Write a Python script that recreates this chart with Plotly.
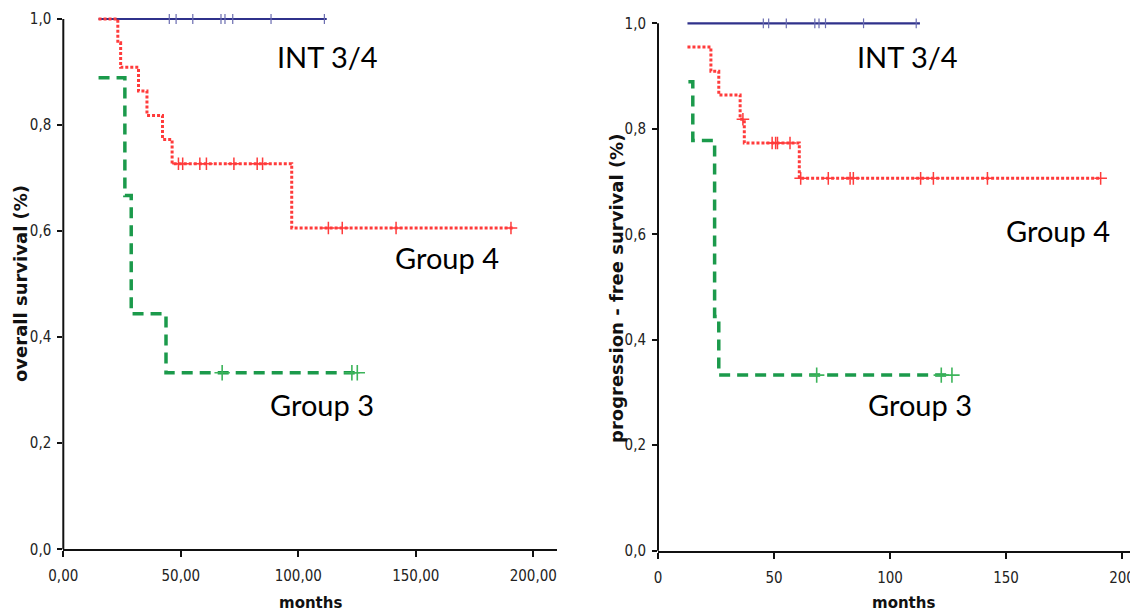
import plotly.graph_objects as go

# ---------------- data ----------------
# Left panel: overall survival
os_int_time = [15.0, 112.1]
os_int_surv = [1.0, 1.0]
os_int_cens_time = [45.1, 48.0, 55.1, 67.1, 68.8, 72.1, 88.4, 111.1]
os_int_cens_surv = [1.0, 1.0, 1.0, 1.0, 1.0, 1.0, 1.0, 1.0]

os_g4_time = [15.0, 23.2, 24.4, 32.0, 35.6, 42.2, 46.3, 97.2, 191.5]
os_g4_surv = [1.0, 0.955, 0.909, 0.864, 0.818, 0.773, 0.727, 0.606, 0.606]
os_g4_cens_time = [49.0, 50.8, 58.1, 60.9, 72.6, 82.5, 84.8, 112.8, 118.7, 141.6, 190.5]
os_g4_cens_surv = [0.727, 0.727, 0.727, 0.727, 0.727, 0.727, 0.727, 0.606, 0.606, 0.606, 0.606]

os_g3_time = [15.0, 26.2, 28.9, 43.7, 126.6]
os_g3_surv = [0.889, 0.667, 0.444, 0.333, 0.333]
os_g3_cens_time = [67.6, 122.8, 125.1]
os_g3_cens_surv = [0.333, 0.333, 0.333]

# Right panel: progression-free survival
pfs_int_time = [12.7, 112.9]
pfs_int_surv = [1.0, 1.0]
pfs_int_cens_time = [45.4, 47.7, 55.3, 67.6, 69.4, 72.2, 88.6, 111.3]
pfs_int_cens_surv = [1.0, 1.0, 1.0, 1.0, 1.0, 1.0, 1.0, 1.0]

pfs_g4_time = [12.7, 22.8, 26.2, 35.4, 37.2, 60.9, 191.0]
pfs_g4_surv = [0.955, 0.909, 0.864, 0.818, 0.773, 0.706, 0.706]
pfs_g4_cens_time = [36.6, 49.2, 50.7, 51.5, 56.9, 61.5, 73.4, 82.8, 84.2, 113.2, 118.7, 142.0, 190.8]
pfs_g4_cens_surv = [0.818, 0.773, 0.773, 0.773, 0.773, 0.706, 0.706, 0.706, 0.706, 0.706, 0.706, 0.706, 0.706]

pfs_g3_time = [13.1, 15.0, 24.4, 26.2, 126.7]
pfs_g3_surv = [0.889, 0.778, 0.444, 0.333, 0.333]
pfs_g3_cens_time = [68.4, 122.1, 126.7]
pfs_g3_cens_surv = [0.333, 0.333, 0.333]

x_ticks = [0, 50, 100, 150, 200]
x_ticktext_left = ["0,00", "50,00", "100,00", "150,00", "200,00"]
x_ticktext_right = ["0", "50", "100", "150", "200"]
y_ticks = [0.0, 0.2, 0.4, 0.6, 0.8, 1.0]
y_ticktext = ["0,0", "0,2", "0,4", "0,6", "0,8", "1,0"]

group_labels = ["INT 3/4", "Group 4", "Group 3"]

# ---------------- styling / layout ----------------
OFF = 8  # page body margin of the browser
W, H = 1138 - OFF, 615 - OFF
ML, MR, MT, MB = 55, 0, 2, 56
PW, PH = W - ML - MR, H - MT - MB


def px_x(px):
    return (px - OFF - ML) / PW


def px_y(py):
    return (H - MB - (py - OFF)) / PH


BLUE = "#2f318b"
RED = "#ff3b3b"
GREEN = "#1b9a4b"
GREEN_M = "#3cb45a"

TICK_FONT = dict(family="Liberation Sans Narrow, DejaVu Sans Condensed, Liberation Sans, Arial", size=15, color="#222222")
YTITLE_FONT = dict(family="DejaVu Sans, Verdana, sans-serif", size=18, color="#111111", weight="bold")
XTITLE_FONT = dict(family="DejaVu Sans, Verdana, sans-serif", size=15, color="#111111", weight="bold")
LABEL_FONT = dict(family="Lato, Open Sans, sans-serif", size=29, color="#000000")

fig = go.Figure()


def add_panel(xa, ya, int_t, int_s, int_ct, int_cs, g4_t, g4_s, g4_ct, g4_cs, g3_t, g3_s, g3_ct, g3_cs):
    fig.add_trace(go.Scatter(x=int_t, y=int_s, mode="lines", line=dict(color=BLUE, width=2.2, shape="hv"),
                             xaxis=xa, yaxis=ya, showlegend=False, hoverinfo="skip"))
    fig.add_trace(go.Scatter(x=int_ct, y=int_cs, mode="markers",
                             marker=dict(symbol="line-ns-open", size=7, color="#6a6cb0",
                                         line=dict(color="#6a6cb0", width=1.2)),
                             xaxis=xa, yaxis=ya, showlegend=False, hoverinfo="skip", cliponaxis=False))
    fig.add_trace(go.Scatter(x=g3_t, y=g3_s, mode="lines",
                             line=dict(color=GREEN, width=3.5, shape="hv", dash="11px,7px"),
                             xaxis=xa, yaxis=ya, showlegend=False, hoverinfo="skip"))
    fig.add_trace(go.Scatter(x=g3_ct, y=g3_cs, mode="markers",
                             marker=dict(symbol="cross-thin-open", size=11, color=GREEN_M,
                                         line=dict(color=GREEN_M, width=1.6)),
                             xaxis=xa, yaxis=ya, showlegend=False, hoverinfo="skip", cliponaxis=False))
    fig.add_trace(go.Scatter(x=g4_t, y=g4_s, mode="lines",
                             line=dict(color=RED, width=3, shape="hv", dash="3px,2px"),
                             xaxis=xa, yaxis=ya, showlegend=False, hoverinfo="skip"))
    fig.add_trace(go.Scatter(x=g4_ct, y=g4_cs, mode="markers",
                             marker=dict(symbol="cross-thin-open", size=9, color=RED,
                                         line=dict(color=RED, width=1.5)),
                             xaxis=xa, yaxis=ya, showlegend=False, hoverinfo="skip", cliponaxis=False))


add_panel("x", "y", os_int_time, os_int_surv, os_int_cens_time, os_int_cens_surv,
          os_g4_time, os_g4_surv, os_g4_cens_time, os_g4_cens_surv,
          os_g3_time, os_g3_surv, os_g3_cens_time, os_g3_cens_surv)
add_panel("x2", "y2", pfs_int_time, pfs_int_surv, pfs_int_cens_time, pfs_int_cens_surv,
          pfs_g4_time, pfs_g4_surv, pfs_g4_cens_time, pfs_g4_cens_surv,
          pfs_g3_time, pfs_g3_surv, pfs_g3_cens_time, pfs_g3_cens_surv)

# pixel geometry of the two panels (reference screenshot pixels)
L_X0, L_XEND, L_PPM = 63.3, 557.0, 2.35
R_X0, R_XEND, R_PPM = 658.0, 1138.0, 2.32
L_Y0, L_Y1 = 549.3, 19.0
R_Y0, R_Y1 = 550.7, 23.3
TOP = MT + OFF  # reference pixel of top of plot area

l_ymax = (L_Y0 - TOP) / (L_Y0 - L_Y1)
r_ymax = (R_Y0 - TOP) / (R_Y0 - R_Y1)

common_x = dict(showgrid=False, zeroline=False, showline=True, linecolor="#111111", linewidth=2,
                ticks="outside", ticklen=6, tickwidth=1.5, tickcolor="#111111",
                tickvals=x_ticks, tickfont=TICK_FONT, ticklabelstandoff=6)
common_y = dict(showgrid=False, zeroline=False, showline=False,
                ticks="outside", ticklen=5, tickwidth=1.5, tickcolor="#111111",
                tickvals=y_ticks, ticktext=y_ticktext, tickfont=TICK_FONT, ticklabelstandoff=3)

fig.update_layout(
    width=W, height=H,
    margin=dict(l=ML, r=MR, t=MT, b=MB, autoexpand=False),
    paper_bgcolor="white", plot_bgcolor="white",
    xaxis=dict(common_x, domain=[max(0.0, px_x(L_X0)), px_x(L_XEND)],
               range=[0, (L_XEND - L_X0) / L_PPM], ticktext=x_ticktext_left, anchor="y"),
    yaxis=dict(common_y, domain=[max(0.0, px_y(L_Y0)), 1.0], range=[0, l_ymax], anchor="x"),
    xaxis2=dict(common_x, domain=[px_x(R_X0), min(1.0, px_x(R_XEND))],
                range=[0, (R_XEND - R_X0) / R_PPM], ticktext=x_ticktext_right, anchor="y2"),
    yaxis2=dict(common_y, domain=[max(0.0, px_y(R_Y0)), 1.0], range=[0, r_ymax], anchor="x2"),
)

# y-axis lines (from 0 to 1.0 only)
fig.add_shape(type="line", xref="x domain", yref="y domain", x0=0, x1=0, y0=0, y1=1 / l_ymax,
              line=dict(color="#111111", width=2))
fig.add_shape(type="line", xref="x2 domain", yref="y2 domain", x0=0, x1=0, y0=0, y1=1 / r_ymax,
              line=dict(color="#111111", width=2))

# axis titles
fig.add_annotation(text="overall survival (%)", xref="paper", yref="paper", x=px_x(20), y=px_y(284),
                   textangle=-90, showarrow=False, font=YTITLE_FONT, xanchor="center", yanchor="middle")
fig.add_annotation(text="progression - free survival (%)", xref="paper", yref="paper", x=px_x(616), y=px_y(288),
                   textangle=-90, showarrow=False, font=YTITLE_FONT, xanchor="center", yanchor="middle")
fig.add_annotation(text="months", xref="paper", yref="paper", x=px_x(310), y=px_y(603),
                   showarrow=False, font=XTITLE_FONT, xanchor="center", yanchor="middle")
fig.add_annotation(text="months", xref="paper", yref="paper", x=px_x(903), y=px_y(603),
                   showarrow=False, font=XTITLE_FONT, xanchor="center", yanchor="middle")

# group labels
label_pos = [
    (group_labels[0], 327, 57), (group_labels[1], 447, 257), (group_labels[2], 322, 404),
    (group_labels[0], 907, 57), (group_labels[1], 1058, 231), (group_labels[2], 920, 404),
]
for txt, px, py in label_pos:
    fig.add_annotation(text=txt, xref="paper", yref="paper", x=px_x(px), y=px_y(py),
                       showarrow=False, font=LABEL_FONT, xanchor="center", yanchor="middle")

fig.write_html("out.html", config={"displayModeBar": False})
